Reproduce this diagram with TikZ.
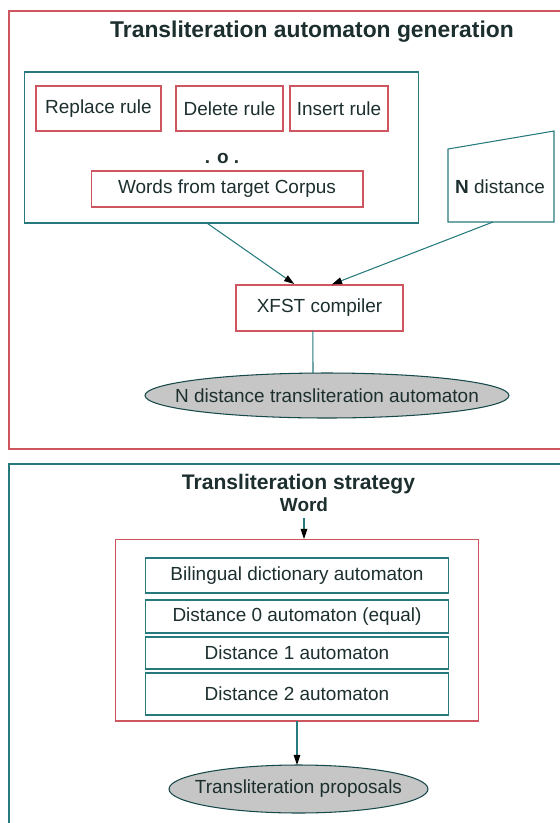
\documentclass[tikz,border=0pt]{standalone}
\usepackage{fontspec}
\setmainfont{Liberation Sans}
\usepackage{xcolor}
\usepackage{tikz}
\usetikzlibrary{calc}
\usetikzlibrary{arrows.meta}
\usetikzlibrary{shapes.geometric}
\definecolor{inkdark}{RGB}{28,46,46}
\definecolor{lineteal}{RGB}{38,122,124}
\definecolor{linered}{RGB}{206,86,96}
\definecolor{ovalgray}{RGB}{198,198,198}
\def\lblfont{\fontsize{10.8pt}{13pt}\selectfont}
\def\headfont{\fontsize{13pt}{15pt}\selectfont\bfseries}

\begin{document}
\begin{tikzpicture}[x=0.02cm,y=-0.02cm,line width=0.6pt,text=inkdark,
	redbox/.style={draw=linered,rectangle,inner sep=0pt,outer sep=0pt,font=\lblfont},
	tealbox/.style={draw=lineteal,rectangle,inner sep=0pt,outer sep=0pt,font=\lblfont},
	oval/.style={draw=lineteal!60!black,fill=ovalgray,ellipse,inner sep=0pt,outer sep=0pt,label={[font=\lblfont,text=inkdark]center:#1}},
	conn/.style={draw=lineteal,-{Triangle[length=5.8pt,width=3.8pt,color=black]}}]
	\useasboundingbox (0,0) rectangle (560,823);
	\clip (0,0) rectangle (560,823);
	% the two frames
	\draw[linered] (9,11) rectangle (575,449);
	\draw[lineteal] (9,464) rectangle (575,840);
	% automaton generation
	\node[anchor=base,font=\headfont] (gentitle) at (312,37) {Transliteration automaton generation};
	\node[tealbox,minimum width=7.9cm,minimum height=3.02cm] (rules) at (221.5,147.5) {};
	\node[redbox,minimum width=2.5cm,minimum height=0.9cm] (replace) at (98.5,108.5) {Replace rule};
	\node[redbox,minimum width=2.14cm,minimum height=0.9cm] (delete) at (229.5,108.5) {Delete rule};
	\node[redbox,minimum width=1.96cm,minimum height=0.9cm] (insert) at (339,108.5) {Insert rule};
	\node[anchor=base,font=\lblfont\bfseries] (compose) at (222,163) {. o .};
	\node[redbox,minimum width=5.44cm,minimum height=0.72cm] (words) at (227,189) {Words from target Corpus};
	\node[minimum width=2.12cm,minimum height=1.82cm,inner sep=0pt,outer sep=0pt] (nd) at (501,176.5) {};
	\draw[lineteal] (nd.south west) -- (nd.south east) -- (nd.north east) -- ($(nd.north west)+(0,18)$) -- cycle;
	\node[font=\lblfont] (ndlabel) at (500,187) {\textbf{N} distance};
	\node[redbox,minimum width=3.34cm,minimum height=0.92cm] (xfst) at (319.5,308) {XFST compiler};
	\node[oval={N distance transliteration automaton},minimum width=7.28cm,minimum height=0.9cm] (nda) at (327,395.5) {};
	\draw[conn,shorten >=1pt] (rules.-101) -- (xfst.136);
	\draw[conn,shorten >=1pt] (nd.-100) -- (xfst.65);
	\draw[lineteal] (xfst.-106) -- (nda.122);
	% transliteration strategy
	\node[anchor=base,font=\fontsize{12pt}{14pt}\selectfont\bfseries] (strattitle) at (298.5,489) {Transliteration strategy};
	\node[anchor=base,font=\lblfont\bfseries] (word) at (304,511) {Word};
	\node[redbox,minimum width=7.28cm,minimum height=3.64cm] (strat) at (297,630) {};
	\node[tealbox,minimum width=6.08cm,minimum height=0.7cm] (biling) at (297,575.5) {Bilingual dictionary automaton};
	\node[tealbox,minimum width=6.08cm,minimum height=0.66cm] (dist0) at (297,616.5) {Distance 0 automaton (equal)};
	\node[tealbox,minimum width=6.08cm,minimum height=0.64cm] (dist1) at (297,653) {Distance 1 automaton};
	\node[tealbox,minimum width=6.08cm,minimum height=0.84cm] (dist2) at (297,694) {Distance 2 automaton};
	\node[oval={Transliteration proposals},minimum width=5.18cm,minimum height=0.96cm] (prop) at (298.5,789) {};
	\draw[conn] (word.south) -- (word.south |- strat.north);
	\draw[conn] (strat.south) -- (strat.south |- prop.north);
\end{tikzpicture}
\end{document}
